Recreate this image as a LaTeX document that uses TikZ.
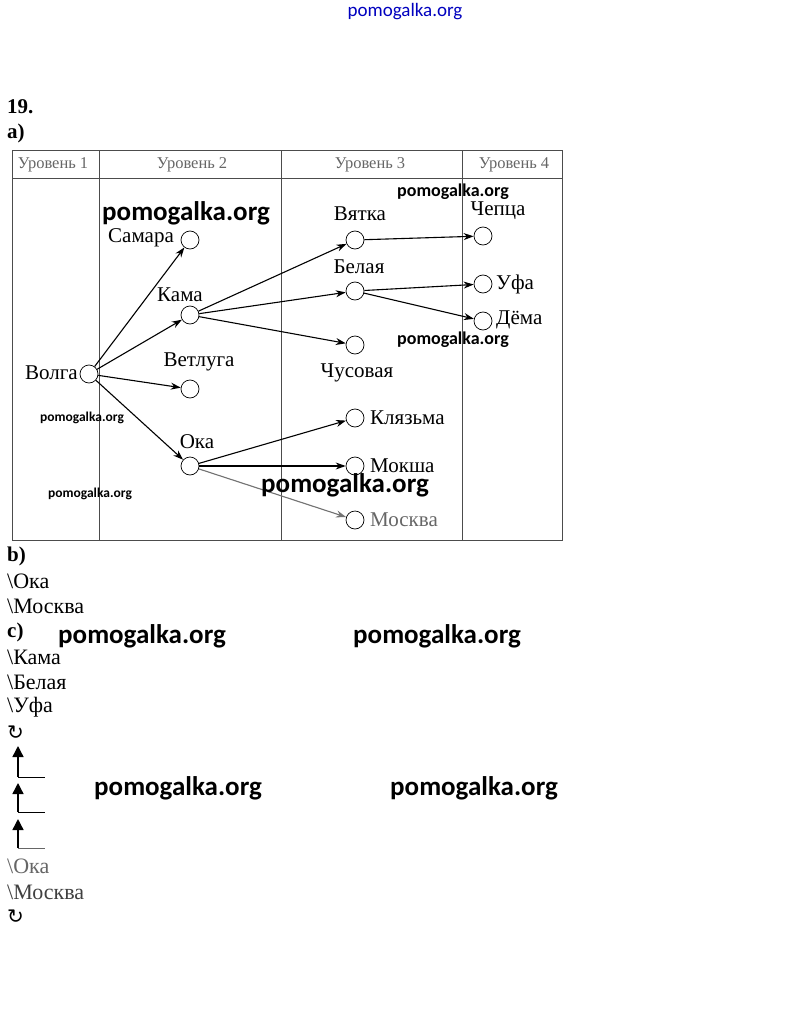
\documentclass[tikz,border=0pt]{standalone}
\usepackage{fontspec}
\setmainfont{Liberation Serif}
\newfontfamily\wmfont{Carlito}
\newfontfamily\symfont{DejaVu Sans}
\usetikzlibrary{arrows.meta}
\begin{document}
\begin{tikzpicture}[x=1pt,y=-1pt,
  river/.style={circle,draw,minimum size=18pt,inner sep=0pt,line width=0.7pt},
  lbl/.style={font=\fontsize{21}{21}\selectfont,inner sep=0pt},
  hdr/.style={font=\fontsize{16.5}{16.5}\selectfont,text=black!60,inner sep=0pt},
  flow/.style={-{Stealth[length=10pt,width=7pt]},line width=1.1pt},
  grid/.style={draw=black!70,line width=1pt},
  txt/.style={font=\fontsize{22}{22}\selectfont,inner sep=0pt,anchor=west},
  bold/.style={font=\bfseries\fontsize{21}{21}\selectfont,inner sep=0pt,anchor=west},
  wmL/.style={font=\wmfont\bfseries\fontsize{27}{27}\selectfont,inner sep=0pt},
  wmM/.style={font=\wmfont\bfseries\fontsize{18}{18}\selectfont,inner sep=0pt},
  wmS/.style={font=\wmfont\bfseries\fontsize{13.5}{13.5}\selectfont,inner sep=0pt},
  up/.style={-{Triangle[length=11pt,width=11pt]},line width=1.4pt},
  sym/.style={font=\symfont\fontsize{20}{20}\selectfont,inner sep=0pt,anchor=west}
]
\useasboundingbox[fill=white] (0,0) rectangle (808,1022);
% top watermark
\node[font=\wmfont\fontsize{19}{19}\selectfont,text=blue!75!black,inner sep=0pt] (topwm) at (405,12) {pomogalka.org};
% heading
\node[bold] (n19) at (7,107) {19.};
\node[bold] (na) at (7,133) {а)};
% table
\draw[grid] (12,150) rectangle (562,540);
\draw[grid] (12,178) -- (562,178);
\draw[grid] (99,150) -- (99,540);
\draw[grid] (281,150) -- (281,540);
\draw[grid] (462,150) -- (462,540);
\node[hdr] (h1) at (53,165) {Уровень 1};
\node[hdr] (h2) at (192,165) {Уровень 2};
\node[hdr] (h3) at (370,165) {Уровень 3};
\node[hdr] (h4) at (514,165) {Уровень 4};
% circles
\node[river] (volga) at (89,374) {};
\node[river] (samara) at (190,240) {};
\node[river] (kama) at (190,315) {};
\node[river] (vetluga) at (190,389) {};
\node[river] (oka) at (190,466) {};
\node[river] (vyatka) at (355,240) {};
\node[river] (belaya) at (355,291) {};
\node[river] (chusovaya) at (355,345) {};
\node[river] (klyazma) at (355,418) {};
\node[river] (moksha) at (355,466) {};
\node[river] (moskva) at (355,520) {};
\node[river] (chepca) at (483,236) {};
\node[river] (ufa) at (483,284) {};
\node[river] (dema) at (483,321) {};
% labels
\node[lbl,anchor=east] (lvolga) at (78,373) {Волга};
\node[lbl,anchor=east] (lsamara) at (174,238) {Самара};
\node[lbl] (lkama) at (180,295) {Кама};
\node[lbl] (lvetluga) at (199,362) {Ветлуга};
\node[lbl] (loka) at (197,442) {Ока};
\node[lbl] (lvyatka) at (360,214) {Вятка};
\node[lbl] (lbelaya) at (359,267) {Белая};
\node[lbl] (lchusovaya) at (357,373) {Чусовая};
\node[lbl] (lchepca) at (498,211) {Чепца};
\node[lbl,anchor=west] (lufa) at (496,284) {Уфа};
\node[lbl,anchor=west] (ldema) at (496,320) {Дёма};
\node[lbl,anchor=west] (lklyazma) at (370,418) {Клязьма};
\node[lbl,anchor=west] (lmoksha) at (370,466) {Мокша};
\node[lbl,anchor=west,text=black!60] (lmoskva) at (370,520) {Москва};
% connectors
\draw[flow] (volga) -- (samara);
\draw[flow] (volga) -- (kama);
\draw[flow] (volga) -- (vetluga);
\draw[flow] (volga) -- (oka);
\draw[flow] (kama) -- (vyatka);
\draw[flow] (kama) -- (belaya);
\draw[flow] (kama) -- (chusovaya);
\draw[flow] (vyatka) -- (chepca);
\draw[flow] (belaya) -- (ufa);
\draw[flow] (belaya) -- (dema);
\draw[flow] (oka) -- (klyazma);
\draw[flow] (oka) -- (moksha);
\draw[flow,draw=black!55,fill=black!55] (oka) -- (moskva);
% watermarks in table
\node[wmL] (wm1) at (186,213) {pomogalka.org};
\node[wmM] (wm2) at (453,192) {pomogalka.org};
\node[wmM] (wm3) at (453,340) {pomogalka.org};
\node[wmS] (wm4) at (82,418) {pomogalka.org};
\node[wmS] (wm5) at (90,494) {pomogalka.org};
\node[wmL] (wm6) at (345,485) {pomogalka.org};
% b)
\node[bold] (nb) at (7,556) {b)};
\node[txt] (b1) at (7,581) {\textbackslash Ока};
\node[txt] (b2) at (7,606) {\textbackslash Москва};
\node[bold] (nc) at (7,632) {c)};
\node[txt] (c1) at (7,657) {\textbackslash Кама};
\node[txt] (c2) at (7,682) {\textbackslash Белая};
\node[txt] (c3) at (7,707) {\textbackslash Уфа};
\node[sym] (r1) at (7,733) {↻};
\coordinate (a1b) at (18,777); \coordinate (a1t) at (18,746); \coordinate (a1r) at (45,777);
\coordinate (a2b) at (18,812); \coordinate (a2t) at (18,783); \coordinate (a2r) at (45,812);
\coordinate (a3b) at (18,848); \coordinate (a3t) at (18,819); \coordinate (a3r) at (45,848);
\draw[up] (a1b) -- (a1t); \draw[line width=0.8pt] (a1b) -- (a1r);
\draw[up] (a2b) -- (a2t); \draw[line width=0.8pt] (a2b) -- (a2r);
\draw[up] (a3b) -- (a3t); \draw[line width=0.8pt,draw=black!60] (a3b) -- (a3r);
\node[txt,text=black!60] (d1) at (7,866) {\textbackslash Ока};
\node[txt,text=black!75] (d2) at (7,892) {\textbackslash Москва};
\node[sym] (r2) at (7,917) {↻};
% lower watermarks
\node[wmL] (wm7) at (142,636) {pomogalka.org};
\node[wmL] (wm8) at (437,636) {pomogalka.org};
\node[wmL] (wm9) at (178,788) {pomogalka.org};
\node[wmL] (wm10) at (474,788) {pomogalka.org};
\end{tikzpicture}
\end{document}
